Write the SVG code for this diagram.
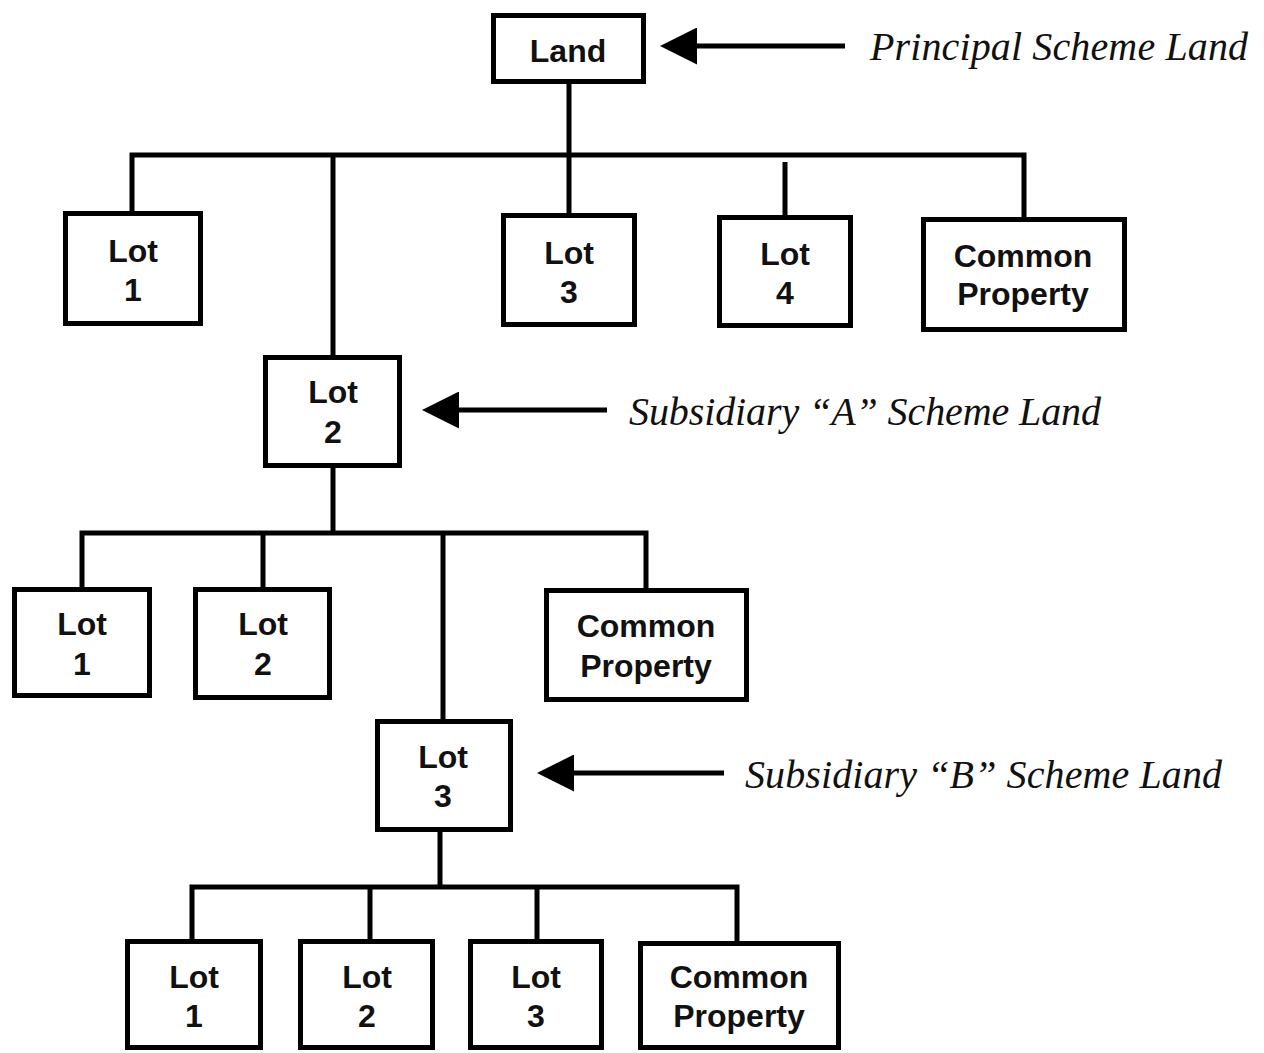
<svg xmlns="http://www.w3.org/2000/svg" width="1264" height="1053" viewBox="0 0 1264 1053">
  <style>
    .box { fill: #fff; stroke: #000; stroke-width: 5; }
    .lbl { font-family: "Liberation Sans", Arial, sans-serif; font-weight: bold; font-size: 32px; fill: #111; text-anchor: middle; }
    .note { font-family: "Liberation Serif", "Times New Roman", serif; font-style: italic; font-size: 40px; fill: #111; }
    .wire { fill: none; stroke: #000; stroke-width: 5; stroke-linejoin: miter; }
    .pointer { fill: none; stroke: #000; stroke-width: 5; marker-end: url(#head); }
  </style>
  <defs>
    <marker id="head" viewBox="0 0 37 37" refX="0" refY="18.5" markerWidth="37" markerHeight="37" markerUnits="userSpaceOnUse" orient="auto">
      <path d="M0,0 L37,18.5 L0,37 Z" fill="#000"/>
    </marker>
  </defs>
  <rect width="1264" height="1053" fill="#fff"/>

  <!-- tree connectors -->
  <g id="connectors">
    <path class="wire" d="M569,84 V155"/>
    <path class="wire" d="M132,211 V155 H1024 V217"/>
    <path class="wire" d="M333,155 V355"/>
    <path class="wire" d="M569,155 V213"/>
    <path class="wire" d="M785,162 V215"/>
    <path class="wire" d="M333,468 V533"/>
    <path class="wire" d="M82,587 V533 H646 V588"/>
    <path class="wire" d="M263,533 V587"/>
    <path class="wire" d="M443,533 V719"/>
    <path class="wire" d="M440,832 V887"/>
    <path class="wire" d="M192,939 V887 H737 V941"/>
    <path class="wire" d="M370,887 V939"/>
    <path class="wire" d="M537,887 V941"/>
    <!-- pointer arrows -->
    <path class="pointer" d="M845,46 H697"/>
    <path class="pointer" d="M607,410 H459"/>
    <path class="pointer" d="M724,773 H574"/>
  </g>

  <!-- principal scheme -->
  <g id="land">
    <rect class="box" x="493.5" y="15.5" width="150" height="66"/>
    <text class="lbl" x="568" y="62">Land</text>
  </g>
  <g id="top-lot1">
    <rect class="box" x="65.5" y="213.5" width="135" height="110"/>
    <text class="lbl" x="133" y="262">Lot</text>
    <text class="lbl" x="133" y="301">1</text>
  </g>
  <g id="top-lot3">
    <rect class="box" x="503.5" y="215.5" width="131" height="109"/>
    <text class="lbl" x="569" y="264">Lot</text>
    <text class="lbl" x="569" y="303">3</text>
  </g>
  <g id="top-lot4">
    <rect class="box" x="719.5" y="217.5" width="131" height="108"/>
    <text class="lbl" x="785" y="265">Lot</text>
    <text class="lbl" x="785" y="304">4</text>
  </g>
  <g id="top-common">
    <rect class="box" x="923.5" y="219.5" width="201" height="110"/>
    <text class="lbl" x="1023" y="267">Common</text>
    <text class="lbl" x="1023" y="305">Property</text>
  </g>

  <!-- subsidiary A scheme -->
  <g id="a-land">
    <rect class="box" x="265.5" y="357.5" width="134" height="108"/>
    <text class="lbl" x="333" y="403">Lot</text>
    <text class="lbl" x="333" y="443">2</text>
  </g>
  <g id="a-lot1">
    <rect class="box" x="14.5" y="589.5" width="135" height="106"/>
    <text class="lbl" x="82" y="635">Lot</text>
    <text class="lbl" x="82" y="675">1</text>
  </g>
  <g id="a-lot2">
    <rect class="box" x="195.5" y="589.5" width="134" height="108"/>
    <text class="lbl" x="263" y="635">Lot</text>
    <text class="lbl" x="263" y="675">2</text>
  </g>
  <g id="a-common">
    <rect class="box" x="546.5" y="590.5" width="200" height="109"/>
    <text class="lbl" x="646" y="637">Common</text>
    <text class="lbl" x="646" y="677">Property</text>
  </g>

  <!-- subsidiary B scheme -->
  <g id="b-land">
    <rect class="box" x="377.5" y="721.5" width="133" height="108"/>
    <text class="lbl" x="443" y="768">Lot</text>
    <text class="lbl" x="443" y="807">3</text>
  </g>
  <g id="b-lot1">
    <rect class="box" x="127.5" y="941.5" width="133" height="106"/>
    <text class="lbl" x="194" y="988">Lot</text>
    <text class="lbl" x="194" y="1027">1</text>
  </g>
  <g id="b-lot2">
    <rect class="box" x="300.5" y="941.5" width="132" height="106"/>
    <text class="lbl" x="367" y="988">Lot</text>
    <text class="lbl" x="367" y="1027">2</text>
  </g>
  <g id="b-lot3">
    <rect class="box" x="470.5" y="941.5" width="131" height="106"/>
    <text class="lbl" x="536" y="988">Lot</text>
    <text class="lbl" x="536" y="1027">3</text>
  </g>
  <g id="b-common">
    <rect class="box" x="640.5" y="943.5" width="198" height="104"/>
    <text class="lbl" x="739" y="988">Common</text>
    <text class="lbl" x="739" y="1027">Property</text>
  </g>

  <!-- scheme level notes -->
  <g id="notes">
    <text class="note" x="870" y="60" textLength="378" lengthAdjust="spacing">Principal Scheme Land</text>
    <text class="note" x="629" y="425" textLength="472" lengthAdjust="spacing">Subsidiary “A” Scheme Land</text>
    <text class="note" x="745" y="788" textLength="477" lengthAdjust="spacing">Subsidiary “B” Scheme Land</text>
  </g>
</svg>
